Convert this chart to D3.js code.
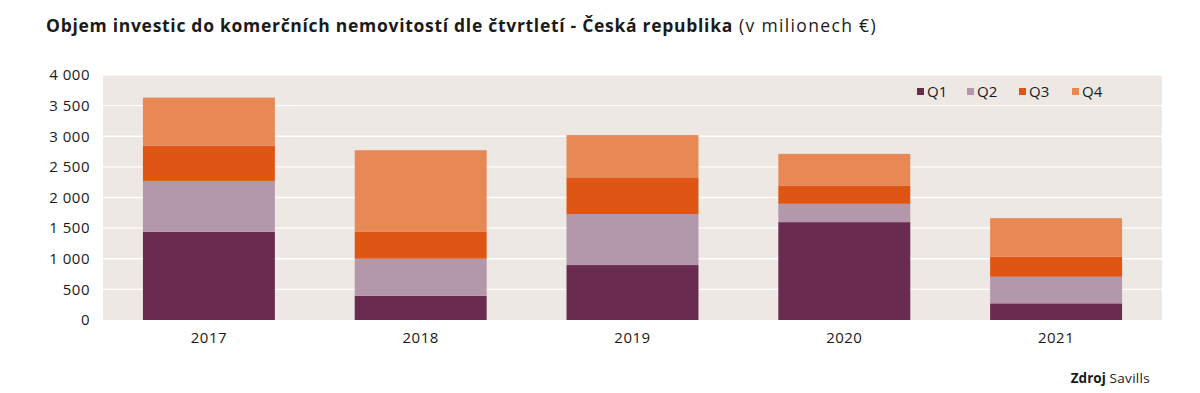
<!DOCTYPE html>
<html><head><meta charset="utf-8">
<script src="https://cdn.jsdelivr.net/npm/d3@7"></script>
<style>
body{margin:0;background:#fff;}
svg text{font-family:"Open Sans","Noto Sans",sans-serif;fill:#1a1a1a;}
</style></head>
<body><svg id="c" width="1200" height="393"></svg>
<script>
const years = ["2017","2018","2019","2020","2021"];
const quarters = ["Q1","Q2","Q3","Q4"];
const q1 = [1440, 396, 897, 1598, 272];
const q2 = [831, 604, 834, 299, 434];
const q3 = [577, 446, 598, 299, 326];
const q4 = [783, 1326, 690, 516, 631];
const yTicks = [0,500,1000,1500,2000,2500,3000,3500,4000];
const colors = ["#6a2b50","#b397aa","#de5514","#e88855"];

const svg = d3.select("#c");
const L=103, R=1162, T=75, B=320;
const x = d3.scaleBand().domain(years).range([L,R]).paddingInner(0.377).paddingOuter(0.1885);
const y = d3.scaleLinear().domain([0,4000]).range([B,T]);

svg.append("rect").attr("x",L).attr("y",T).attr("width",R-L).attr("height",B-T).attr("fill","#ede8e3");
svg.append("g").selectAll("line").data(yTicks.slice(1)).join("line")
  .attr("x1",L).attr("x2",R).attr("y1",d=>y(d)).attr("y2",d=>y(d))
  .attr("stroke","#ffffff").attr("stroke-width",1.3);

const table = years.map((yr,i)=>({year:yr,Q1:q1[i],Q2:q2[i],Q3:q3[i],Q4:q4[i]}));
const stacked = d3.stack().keys(quarters)(table);
svg.append("g").selectAll("g").data(stacked).join("g")
  .attr("fill",(d,i)=>colors[i])
  .selectAll("rect").data(d=>d).join("rect")
  .attr("x",d=>x(d.data.year)).attr("width",x.bandwidth())
  .attr("y",d=>y(d[1])).attr("height",d=>y(d[0])-y(d[1]));

const fmt = v => d3.format(",")(v).replace(/,/g," ");
const yAxis = d3.axisLeft(y).tickValues(yTicks).tickFormat(fmt).tickSize(0).tickPadding(13);
const gy = svg.append("g").attr("transform",`translate(${L},0)`).call(yAxis);
gy.select(".domain").remove();
gy.selectAll("text").style("font-size","15px").style("letter-spacing","0.5px").attr("fill","#1a1a1a");

const xAxis = d3.axisBottom(x).tickSize(0).tickPadding(12);
const gx = svg.append("g").attr("transform",`translate(0,${B})`).call(xAxis);
gx.select(".domain").remove();
gx.selectAll("text").style("font-size","15px").style("letter-spacing","0.5px").attr("fill","#1a1a1a");

// legend
const legX = [917, 967, 1019, 1072];
const lg = svg.append("g").selectAll("g").data(quarters).join("g")
  .attr("transform",(d,i)=>`translate(${legX[i]},88)`);
lg.append("rect").attr("width",7).attr("height",7).attr("fill",(d,i)=>colors[i]);
lg.append("text").attr("x",10).attr("y",3.5).attr("dy","0.35em").style("font-size","15px").text(d=>d);

// title
const t = svg.append("text").attr("x",46).attr("y",32).style("font-size","17.5px");
const tb = t.append("tspan").style("font-weight","bold").text("Objem investic do komerčních nemovitostí dle čtvrtletí - Česká republika");
const tn = t.append("tspan").text(" (v milionech €)");
{
  const wb = tb.node().getComputedTextLength();
  const nb = tb.text().length;
  tb.style("letter-spacing", ((687 - wb)/nb) + "px");
  const wn = tn.node().getComputedTextLength();
  const nn = tn.text().length;
  tn.style("letter-spacing", ((144 - wn)/nn) + "px");
}

const s = svg.append("text").attr("x",1150).attr("y",383).attr("text-anchor","end").style("font-size","13.5px");
s.append("tspan").style("font-weight","bold").text("Zdroj");
s.append("tspan").text("  Savills").style("letter-spacing","0.3px");
</script></body></html>
